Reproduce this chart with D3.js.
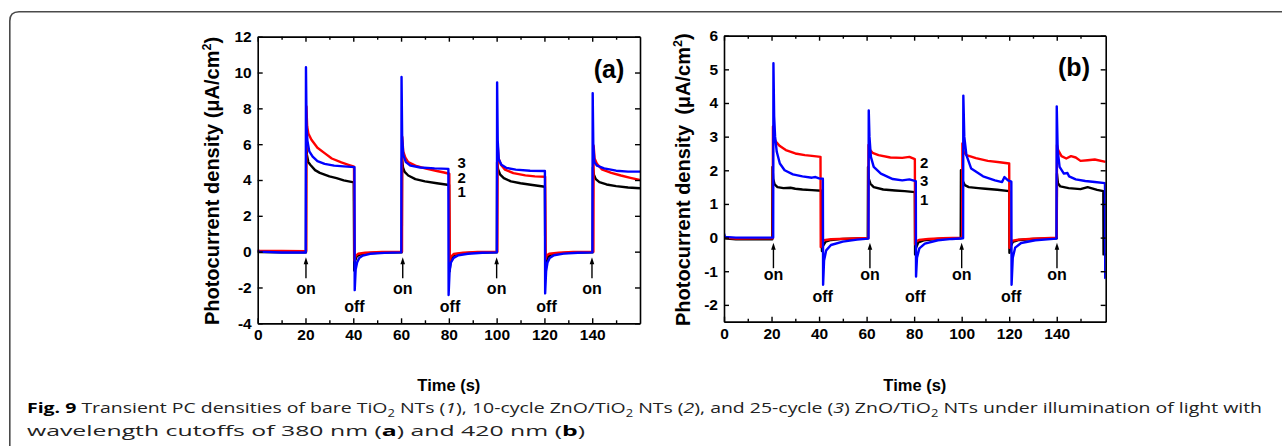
<!DOCTYPE html>
<html>
<head>
<meta charset="utf-8">
<script src="https://cdn.jsdelivr.net/npm/d3@7"></script>
<style>
  html, body { margin: 0; padding: 0; background: #fff; }
  svg { display: block; }
</style>
</head>
<body>
<svg id="fig" width="1282" height="446"></svg>
<script>
// ---- Transient photocurrent, cutoff 380 nm (panel a): [time s, µA/cm²] ----
const tio2A = [[0,0.08],[0.5,-0.02],[10,-0.04],[20.2,-0.04],[20.3,6.0],[20.6,5.4],[21.2,5.0],[22,4.85],[24,4.55],[26,4.4],[30,4.2],[33,4.1],[36,3.98],[40.2,3.87],[40.4,-1.05],[40.8,-0.5],[41.5,-0.25],[43,-0.15],[46,-0.09],[52,-0.05],[60.3,-0.03],[60.4,5.2],[60.8,4.7],[61.5,4.45],[63,4.25],[66,4.05],[70,3.92],[75,3.82],[80.1,3.72],[80.3,-1.1],[80.7,-0.5],[81.5,-0.25],[83,-0.14],[87,-0.08],[92,-0.05],[100.1,-0.03],[100.2,5.0],[100.6,4.6],[101.5,4.3],[103,4.1],[106,3.92],[110,3.82],[115,3.72],[120.2,3.62],[120.4,-1.2],[120.8,-0.55],[121.5,-0.28],[123,-0.15],[127,-0.08],[133,-0.05],[140.2,-0.03],[140.3,4.7],[140.7,4.3],[141.5,4.05],[143,3.88],[146,3.75],[150,3.66],[155,3.58],[160,3.54]];
const zno10A = [[0,0.1],[0.5,0.05],[10,0.04],[20.3,0.03],[20.4,8.1],[20.7,7.0],[21.2,6.6],[22.5,6.25],[25,5.8],[28,5.5],[31,5.2],[35,4.98],[38,4.85],[40.3,4.75],[40.5,-0.5],[40.9,-0.25],[42,-0.12],[45,-0.06],[52,-0.02],[60.4,0.0],[60.5,6.4],[60.9,5.6],[61.8,5.25],[63,5.0],[66,4.8],[70,4.65],[75,4.5],[78,4.42],[80.2,4.35],[80.4,-0.6],[80.8,-0.3],[82,-0.13],[86,-0.06],[92,-0.02],[100.3,0.0],[100.4,6.05],[100.8,5.2],[101.8,4.85],[103.5,4.58],[107,4.38],[112,4.26],[116,4.2],[120.3,4.18],[120.5,-0.4],[120.9,-0.22],[122,-0.12],[126,-0.06],[132,-0.02],[140.5,0.0],[140.6,5.9],[141,5.2],[142,4.9],[144,4.6],[148,4.4],[152,4.25],[156,4.12],[160,4.0]];
const zno25A = [[0,0.12],[0.4,0.0],[10,-0.05],[20.1,-0.05],[20.2,10.3],[20.45,7.0],[20.8,6.2],[21.6,5.6],[23,5.3],[25,5.05],[28,4.9],[32,4.8],[36,4.76],[40.5,4.72],[40.6,-2.15],[41,-1.0],[41.6,-0.6],[42.5,-0.35],[44,-0.22],[47,-0.12],[53,-0.07],[60.1,-0.04],[60.2,9.75],[60.45,6.5],[60.9,5.4],[62,5.0],[64,4.8],[68,4.7],[74,4.65],[79.8,4.62],[79.9,-2.42],[80.3,-1.1],[80.9,-0.6],[82,-0.35],[84,-0.2],[88,-0.12],[94,-0.06],[100.1,-0.04],[100.2,9.45],[100.45,6.2],[100.9,5.15],[102,4.85],[104,4.68],[108,4.58],[114,4.52],[120.2,4.5],[120.3,-2.33],[120.7,-1.1],[121.3,-0.6],[122.2,-0.35],[124,-0.2],[128,-0.11],[134,-0.06],[140.1,-0.04],[140.2,8.85],[140.45,6.0],[140.9,5.0],[142,4.8],[145,4.65],[150,4.52],[155,4.47],[160,4.47]];

// ---- Transient photocurrent, cutoff 420 nm (panel b) ----
const tio2B = [[0,-0.02],[5,-0.05],[20.3,-0.05],[20.4,2.1],[20.7,1.75],[21.3,1.58],[22.5,1.5],[25,1.47],[28,1.48],[30,1.45],[33,1.43],[37,1.41],[41.1,1.39],[41.2,-0.4],[41.6,-0.25],[42.8,-0.12],[45,-0.07],[50,-0.04],[60.5,-0.02],[60.6,2.1],[60.9,1.75],[61.6,1.6],[63,1.5],[67,1.43],[72,1.4],[76,1.38],[80.3,1.35],[80.4,-0.5],[80.8,-0.3],[81.8,-0.14],[84,-0.08],[90,-0.04],[99.6,-0.02],[99.7,2.0],[100.3,1.7],[101.3,1.56],[103,1.5],[107,1.47],[110,1.45],[115,1.42],[120.0,1.38],[120.1,-0.45],[120.5,-0.28],[121.5,-0.13],[124,-0.07],[130,-0.04],[140,-0.02],[140.1,1.9],[140.5,1.62],[141.5,1.52],[145,1.47],[150,1.44],[153,1.5],[157,1.42],[159.6,1.38],[159.7,-0.5],[160.6,-0.5]];
const zno10B = [[0,0.0],[5,-0.03],[20.5,-0.02],[20.6,3.3],[20.9,3.0],[21.8,2.85],[23.5,2.72],[26,2.6],[30,2.5],[34,2.45],[37,2.43],[40.6,2.4],[40.7,-0.28],[41.1,-0.15],[42,-0.08],[45,-0.05],[52,-0.03],[60.7,-0.01],[60.8,2.75],[61.3,2.62],[62.5,2.52],[65,2.45],[70,2.38],[75,2.37],[78,2.4],[80.3,2.33],[80.4,-0.2],[80.8,-0.12],[82,-0.07],[86,-0.04],[92,-0.02],[100.2,0.0],[100.3,2.8],[100.8,2.55],[102,2.45],[106,2.36],[111,2.28],[116,2.24],[120.0,2.2],[120.1,-0.3],[120.5,-0.16],[121.5,-0.09],[124,-0.06],[130,-0.03],[140.0,0.0],[140.1,2.75],[140.6,2.6],[142,2.42],[144,2.35],[146,2.42],[148,2.38],[150,2.28],[153,2.3],[156,2.32],[160.6,2.25]];
const zno25B = [[0,0.12],[0.4,0.02],[5,0.0],[20.7,0.0],[20.8,5.18],[21.1,3.6],[21.5,3.0],[22.2,2.55],[23.5,2.2],[25.5,2.0],[29,1.88],[33,1.82],[37,1.78],[38.5,1.8],[40,1.76],[41.6,1.75],[41.7,-1.4],[42.1,-0.68],[43,-0.38],[45,-0.22],[50,-0.12],[56,-0.06],[60.8,-0.03],[60.9,3.78],[61.2,3.0],[61.8,2.4],[63,2.1],[66,1.9],[71,1.74],[75,1.7],[78,1.73],[80.7,1.68],[80.8,-1.16],[81.2,-0.6],[82.2,-0.32],[84.5,-0.18],[90,-0.08],[96,-0.04],[100.6,-0.02],[100.7,4.22],[101.1,3.0],[102,2.45],[104,2.05],[109,1.82],[114,1.7],[117,1.65],[118,1.8],[119.5,1.7],[120.9,1.66],[121.0,-1.4],[121.5,-0.6],[122.5,-0.3],[125,-0.16],[131,-0.08],[139.9,-0.03],[140.0,3.9],[140.4,2.6],[141.2,2.1],[143,1.9],[144.5,1.92],[145.2,1.82],[148,1.73],[152,1.68],[156,1.65],[160.3,1.62],[160.4,-1.2],[160.6,-1.2]];

// ---- Axis ticks ----
const timeTicks = [0, 20, 40, 60, 80, 100, 120, 140];
const timeMinorTicks = [10, 30, 50, 70, 90, 110, 130, 150];
const currentTicksA = [-4, -2, 0, 2, 4, 6, 8, 10, 12];
const currentTicksB = [-2, -1, 0, 1, 2, 3, 4, 5, 6];

// ---- Light on/off markers and curve numbers (data coordinates) ----
const lightOnA = [20.2, 60.7, 100, 139.9];
const lightOffA = [40.5, 80.5, 120.9];
const lightOnB = [20.8, 61.4, 100, 140.1];
const lightOffB = [41.5, 80.5, 120.8];
const curveNumsA = [["3", 85.4, 4.95], ["2", 85.4, 4.15], ["1", 85.4, 3.33]];
const curveNumsB = [["2", 84.2, 2.23], ["3", 84.2, 1.69], ["1", 84.2, 1.14]];

const seriesColors = ["#000000", "#ff0000", "#0000ff"];
const FONT = "'Liberation Sans', Arial, sans-serif";

const svg = d3.select("#fig");
svg.append("rect").attr("width", 1282).attr("height", 446).attr("fill", "#fff");

// figure frame with rounded top-left corner
svg.append("path")
  .attr("d", "M9.8,446 L9.8,21 Q9.8,11.8 19,11.8 L1282,11.8")
  .attr("fill", "none").attr("stroke", "#4a4a4a").attr("stroke-width", 1.6);

function drawPanel(o) {
  const x = d3.scaleLinear().domain(o.xDomain).range([o.left, o.right]);
  const y = d3.scaleLinear().domain(o.yDomain).range([o.bottom, o.top]);
  const g = svg.append("g");

  const clipId = "clip-" + o.id;
  svg.append("clipPath").attr("id", clipId).append("rect")
    .attr("x", o.left).attr("y", o.top)
    .attr("width", o.right - o.left).attr("height", o.bottom - o.top);

  const line = d3.line().x(d => x(d[0])).y(d => y(d[1]));
  const plot = g.append("g").attr("clip-path", `url(#${clipId})`);
  o.series.forEach((s, i) => {
    plot.append("path").datum(s).attr("d", line)
      .attr("fill", "none").attr("stroke", seriesColors[i])
      .attr("stroke-width", 2.4).attr("stroke-linejoin", "round");
  });

  // axes: inward ticks on all four sides
  const styleAxis = sel => {
    sel.selectAll(".domain").attr("stroke", "#000").attr("stroke-width", 1.6);
    sel.selectAll(".tick line").attr("stroke", "#000").attr("stroke-width", 1.4);
    sel.selectAll("text").attr("font-family", FONT).attr("font-weight", "bold")
      .attr("font-size", 15.5).attr("fill", "#000");
  };
  g.append("g").attr("transform", `translate(0,${o.bottom})`)
    .call(d3.axisBottom(x).tickValues(timeTicks).tickSizeInner(-5).tickSizeOuter(0)
      .tickPadding(6).tickFormat(d => String(d)))
    .call(styleAxis);
  g.append("g").attr("transform", `translate(0,${o.bottom})`)
    .call(d3.axisBottom(x).tickValues(timeMinorTicks).tickSizeInner(-3).tickSizeOuter(0).tickFormat(""))
    .call(styleAxis);
  g.append("g").attr("transform", `translate(0,${o.top})`)
    .call(d3.axisTop(x).tickValues(timeTicks).tickSizeInner(-5).tickSizeOuter(0).tickFormat(""))
    .call(styleAxis);
  g.append("g").attr("transform", `translate(0,${o.top})`)
    .call(d3.axisTop(x).tickValues(timeMinorTicks).tickSizeInner(-3).tickSizeOuter(0).tickFormat(""))
    .call(styleAxis);
  g.append("g").attr("transform", `translate(${o.left},0)`)
    .call(d3.axisLeft(y).tickValues(o.yTicks).tickSizeInner(-5).tickSizeOuter(0)
      .tickPadding(6).tickFormat(d => String(d)))
    .call(styleAxis);
  g.append("g").attr("transform", `translate(${o.right},0)`)
    .call(d3.axisRight(y).tickValues(o.yTicks).tickSizeInner(-5).tickSizeOuter(0).tickFormat(""))
    .call(styleAxis);

  // axis titles
  g.append("text")
    .attr("x", (o.left + o.right) / 2).attr("y", 391)
    .attr("text-anchor", "middle").attr("font-family", FONT).attr("font-weight", "bold")
    .attr("font-size", 16.5).text("Time (s)");
  const yt = g.append("text")
    .attr("transform", `translate(${o.yTitleX},${(o.top + o.bottom) / 2 + 1}) rotate(-90)`)
    .attr("text-anchor", "middle").attr("font-family", FONT).attr("font-weight", "bold")
    .attr("font-size", 20);
  yt.append("tspan").text(o.yTitle);
  yt.append("tspan").attr("font-size", 12.5).attr("dy", -8.5).text("2");
  yt.append("tspan").attr("dy", 8.5).text(")");

  // panel letter
  g.append("text").attr("x", o.letterX).attr("y", o.letterY)
    .attr("text-anchor", "middle").attr("font-family", FONT).attr("font-weight", "bold")
    .attr("font-size", 25).text(o.letter);

  // curve numbers
  g.selectAll(".cnum").data(o.curveNums).enter().append("text")
    .attr("x", d => x(d[1])).attr("y", d => y(d[2]))
    .attr("dy", "0.36em").attr("text-anchor", "middle")
    .attr("font-family", FONT).attr("font-weight", "bold").attr("font-size", 15)
    .text(d => d[0]);

  // light-on arrows and labels
  o.on.forEach(t => {
    const xp = x(t), tip = y(o.arrowTip), tail = y(o.arrowTail);
    g.append("line").attr("x1", xp).attr("x2", xp).attr("y1", tail).attr("y2", tip + 5)
      .attr("stroke", "#000").attr("stroke-width", 1.4);
    g.append("path")
      .attr("d", `M${xp},${tip} L${xp - 2.3},${tip + 7} L${xp + 2.3},${tip + 7} Z`)
      .attr("fill", "#000");
    g.append("text").attr("x", xp).attr("y", y(o.onY)).attr("dy", "0.36em")
      .attr("text-anchor", "middle").attr("font-family", FONT).attr("font-weight", "bold")
      .attr("font-size", 16).text("on");
  });
  o.off.forEach(t => {
    g.append("text").attr("x", x(t)).attr("y", y(o.offY)).attr("dy", "0.36em")
      .attr("text-anchor", "middle").attr("font-family", FONT).attr("font-weight", "bold")
      .attr("font-size", 16).text("off");
  });
}

drawPanel({
  id: "a", left: 257.7, right: 640, top: 36.7, bottom: 323.3,
  xDomain: [0, 160], yDomain: [-4, 12], yTicks: currentTicksA,
  series: [tio2A, zno10A, zno25A],
  yTitle: "Photocurrent density (\u03bcA/cm", yTitleX: 219,
  letter: "(a)", letterX: 609, letterY: 78,
  curveNums: curveNumsA, on: lightOnA, off: lightOffA,
  arrowTip: -0.31, arrowTail: -1.49, onY: -2.05, offY: -3.03
});
drawPanel({
  id: "b", left: 724, right: 1105.7, top: 35.7, bottom: 321.7,
  xDomain: [0, 160.6], yDomain: [-2.5, 6], yTicks: currentTicksB,
  series: [tio2B, zno10B, zno25B],
  yTitle: "Photocurrent density\u2002(\u03bcA/cm", yTitleX: 690,
  letter: "(b)", letterX: 1074, letterY: 76,
  curveNums: curveNumsB, on: lightOnB, off: lightOffB,
  arrowTip: -0.15, arrowTail: -0.91, onY: -1.09, offY: -1.73
});

// caption
const CAP = "'Open Sans', 'Noto Sans', sans-serif";
const cap1 = svg.append("text").attr("x", 27).attr("y", 413)
  .attr("font-family", CAP).attr("font-size", 15).attr("fill", "#222")
  .attr("textLength", 1235).attr("lengthAdjust", "spacingAndGlyphs");
const parts1 = [
  ["Fig. 9", "b"], [" Transient PC densities of bare TiO"], ["2", "sub"], [" NTs ("], ["1", "i"],
  ["), 10-cycle ZnO/TiO"], ["2", "sub"], [" NTs ("], ["2", "i"], ["), and 25-cycle ("], ["3", "i"],
  [") ZnO/TiO"], ["2", "sub"], [" NTs under illumination of light with"]
];
let shifted = false;
parts1.forEach(([txt, kind]) => {
  const ts = cap1.append("tspan").text(txt);
  if (kind === "b") ts.attr("font-weight", "bold").attr("fill", "#000");
  if (kind === "i") ts.attr("font-style", "italic");
  if (kind === "sub") { ts.attr("dy", 4).attr("font-size", 10); shifted = true; }
  else if (shifted) { ts.attr("dy", -4); shifted = false; }
});
const cap2 = svg.append("text").attr("x", 27).attr("y", 436)
  .attr("font-family", CAP).attr("font-size", 15).attr("fill", "#222")
  .attr("textLength", 558).attr("lengthAdjust", "spacingAndGlyphs");
[["wavelength cutoffs of 380 nm ("], ["a", "b"], [") and 420 nm ("], ["b", "b"], [")"]]
  .forEach(([txt, kind]) => {
    const ts = cap2.append("tspan").text(txt);
    if (kind === "b") ts.attr("font-weight", "bold").attr("fill", "#000");
  });
</script>
</body>
</html>
